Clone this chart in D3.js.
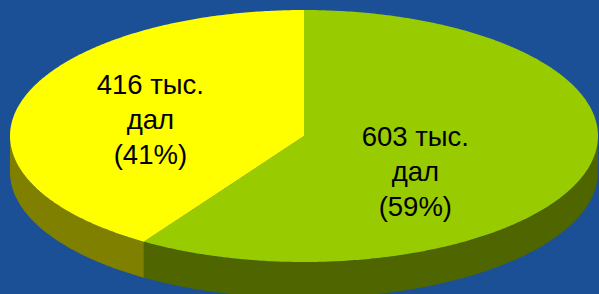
<!DOCTYPE html>
<html><head><meta charset="utf-8">
<script src="https://cdn.jsdelivr.net/npm/d3@7"></script>
<style>html,body{margin:0;padding:0;background:#1b4f96;overflow:hidden}</style>
</head><body>
<script>
const categories = ["603 тыс. дал", "416 тыс. дал"];
const values = [603, 416];
const percents = ["59%", "41%"];
const labelLines = [["603 тыс.", "дал", "(59%)"], ["416 тыс.", "дал", "(41%)"]];
const topColors = ["#99cc00", "#ffff00"];
const sideColors = ["#4f6500", "#808000"];

const W = 599, H = 294;
const svg = d3.select("body").append("svg").attr("width", W).attr("height", H);
svg.append("rect").attr("width", W).attr("height", H).attr("fill", "#1b4f96");

const cx = 304, cy = 136, rx = 294, ry = 126, depth = 36;
const pie = d3.pie().sort(null).value(d => d)(values);

function pt(t, dy) { return [cx + rx * Math.sin(t), cy - ry * Math.cos(t) + (dy || 0)]; }
function arcPts(a0, a1, dy) {
  const n = Math.max(2, Math.ceil((a1 - a0) / 0.01));
  const out = [];
  for (let i = 0; i <= n; i++) out.push(pt(a0 + (a1 - a0) * i / n, dy));
  return out;
}
const line = d3.line();

// sides (front half only)
pie.forEach((p, i) => {
  const a0 = Math.max(p.startAngle, Math.PI / 2), a1 = Math.min(p.endAngle, 3 * Math.PI / 2);
  if (a1 <= a0) return;
  const pts = arcPts(a0, a1, 0).concat(arcPts(a0, a1, depth).reverse());
  svg.append("path").attr("d", line(pts) + "Z").attr("fill", sideColors[i]);
});

// tops
pie.forEach((p, i) => {
  const pts = [[cx, cy]].concat(arcPts(p.startAngle, p.endAngle, 0));
  svg.append("path").attr("d", line(pts) + "Z").attr("fill", topColors[i]);
});

// labels
const labelK = [0.395, 0.545];
const labelDy = [22, 4];
pie.forEach((p, i) => {
  const m = (p.startAngle + p.endAngle) / 2;
  const [x, y] = [cx + rx * labelK[i] * Math.sin(m), cy - ry * labelK[i] * Math.cos(m) + labelDy[i]];
  const t = svg.append("text").attr("x", x).attr("y", y)
    .attr("text-anchor", "middle")
    .attr("font-family", "Liberation Sans, Arial, sans-serif")
    .attr("font-size", 27.5).attr("fill", "#000");
  labelLines[i].forEach((s, j) => {
    t.append("tspan").attr("x", x).attr("y", y + (j - 1) * 35 + 9).text(s);
  });
});
</script>
</body></html>
